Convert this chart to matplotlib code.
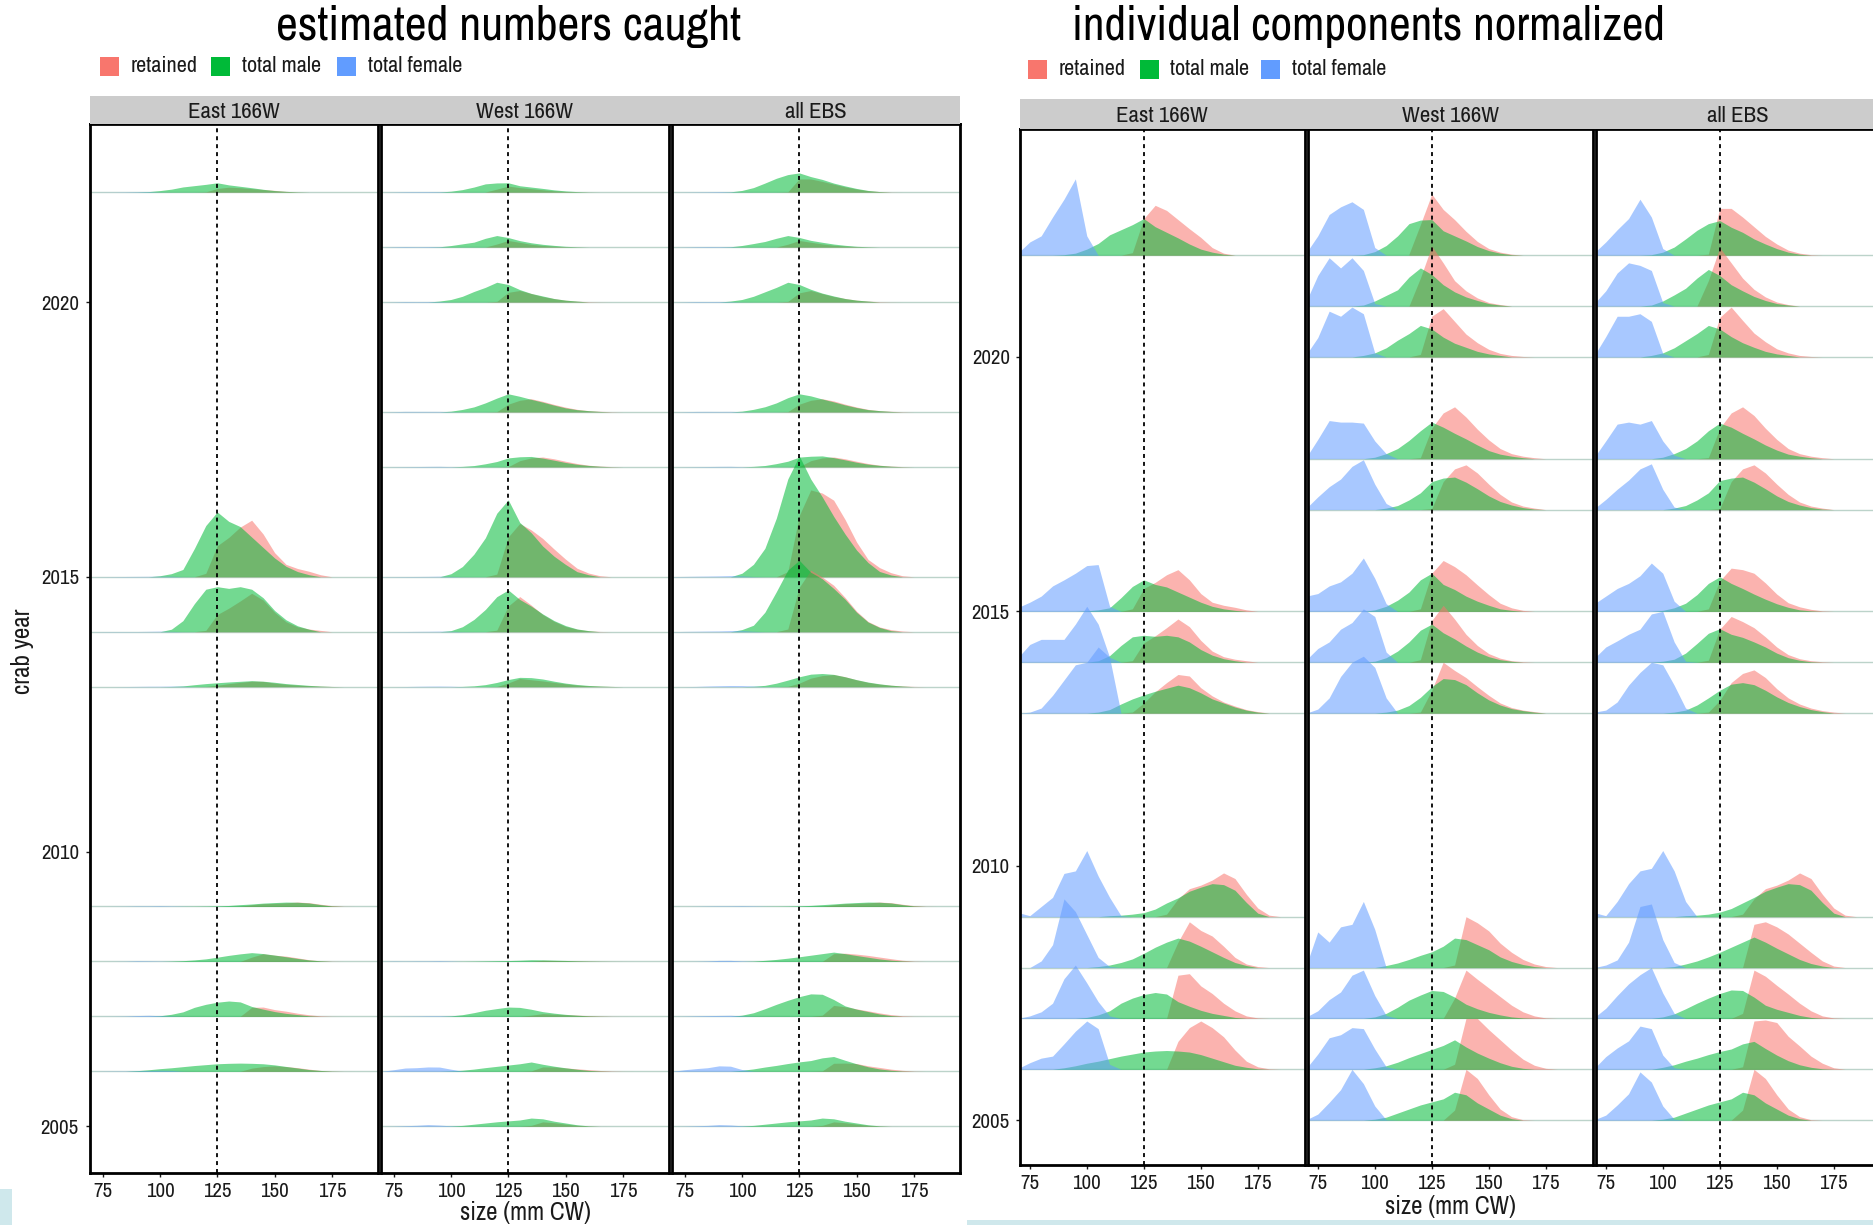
import numpy as np
import matplotlib.pyplot as plt
from matplotlib.patches import Rectangle

W, H = 1873, 1225
plt.rcParams['font.family'] = ['Archivo Narrow', 'PT Sans Narrow', 'DejaVu Sans']

# size bins (mm CW) for each component
female_mm = [65, 70, 75, 80, 85, 90, 95, 100, 105, 110, 115, 120]
male_mm = [85, 90, 95, 100, 105, 110, 115, 120, 125, 130, 135, 140, 145, 150,
           155, 160, 165, 170, 175, 180, 185]
ret_mm = [115, 120, 125, 130, 135, 140, 145, 150, 155, 160, 165, 170, 175,
          180, 185, 190]

# ---- East 166W ----
east_years = [2022, 2015, 2014, 2013, 2009, 2008, 2007, 2006]
east_female = [
    [0, 0.05, 0.26, 0.38, 0.75, 1.10, 1.50, 0.38, 0, 0, 0, 0],
    [0, 0.08, 0.18, 0.30, 0.50, 0.62, 0.75, 0.90, 0.92, 0.10, 0, 0],
    [0, 0.10, 0.35, 0.45, 0.45, 0.45, 0.75, 1.10, 0.75, 0.10, 0, 0],
    [0, 0, 0.02, 0.10, 0.35, 0.65, 0.95, 1.00, 1.30, 1.10, 0, 0],
    [0, 0.08, 0.02, 0.20, 0.38, 0.85, 0.90, 1.30, 0.80, 0.38, 0.02, 0],
    [0, 0, 0, 0.13, 0.45, 1.35, 1.10, 0.65, 0.20, 0.02, 0, 0],
    [0, 0, 0.05, 0.13, 0.30, 0.78, 1.05, 0.70, 0.33, 0.05, 0, 0],
    [0, 0.02, 0.13, 0.22, 0.26, 0.50, 0.75, 0.95, 0.80, 0.10, 0, 0],
]
east_male = [
    [0, 0.01, 0.04, 0.12, 0.23, 0.40, 0.50, 0.60, 0.72, 0.56, 0.45, 0.34, 0.22, 0.12, 0.06, 0.02, 0, 0, 0, 0, 0],
    [0, 0, 0, 0.01, 0.03, 0.07, 0.27, 0.49, 0.62, 0.53, 0.48, 0.38, 0.28, 0.18, 0.10, 0.05, 0.02, 0, 0, 0, 0],
    [0, 0, 0, 0, 0.03, 0.13, 0.33, 0.50, 0.53, 0.51, 0.53, 0.50, 0.40, 0.25, 0.14, 0.07, 0.03, 0, 0, 0, 0],
    [0, 0, 0, 0, 0.02, 0.07, 0.18, 0.28, 0.36, 0.43, 0.49, 0.55, 0.50, 0.40, 0.28, 0.20, 0.12, 0.06, 0.02, 0, 0],
    [0, 0, 0, 0, 0, 0.02, 0.03, 0.05, 0.08, 0.15, 0.27, 0.37, 0.50, 0.58, 0.65, 0.63, 0.52, 0.28, 0.07, 0, 0],
    [0, 0, 0, 0, 0.02, 0.05, 0.10, 0.17, 0.28, 0.40, 0.50, 0.58, 0.52, 0.42, 0.31, 0.20, 0.10, 0.04, 0, 0, 0],
    [0, 0, 0, 0.02, 0.07, 0.15, 0.30, 0.40, 0.47, 0.51, 0.48, 0.33, 0.24, 0.16, 0.10, 0.06, 0.02, 0, 0, 0, 0],
    [0, 0.03, 0.07, 0.12, 0.16, 0.21, 0.26, 0.30, 0.34, 0.36, 0.37, 0.36, 0.34, 0.29, 0.22, 0.15, 0.08, 0.04, 0.01, 0, 0],
]
east_retained = [
    [0, 0.05, 0.72, 0.98, 0.88, 0.70, 0.52, 0.35, 0.15, 0.04, 0, 0, 0, 0, 0, 0],
    [0, 0.05, 0.45, 0.57, 0.72, 0.82, 0.62, 0.35, 0.18, 0.12, 0.08, 0.03, 0, 0, 0, 0],
    [0, 0.03, 0.38, 0.52, 0.68, 0.85, 0.70, 0.43, 0.22, 0.11, 0.06, 0.03, 0, 0, 0, 0],
    [0, 0.02, 0.20, 0.42, 0.60, 0.76, 0.73, 0.50, 0.34, 0.22, 0.14, 0.07, 0.03, 0, 0, 0],
    [0, 0, 0, 0, 0.05, 0.35, 0.55, 0.62, 0.72, 0.86, 0.75, 0.44, 0.17, 0.03, 0, 0],
    [0, 0, 0, 0, 0, 0.50, 0.90, 0.73, 0.62, 0.42, 0.20, 0.07, 0.02, 0, 0, 0],
    [0, 0, 0, 0, 0, 0.85, 0.88, 0.64, 0.49, 0.30, 0.15, 0.05, 0.01, 0, 0, 0],
    [0, 0, 0, 0, 0, 0.55, 0.82, 0.95, 0.82, 0.64, 0.38, 0.16, 0.05, 0.01, 0, 0],
]
# peak heights of the absolute catch curves (in year-row units)
east_peak_male = [0.17, 1.18, 0.82, 0.11, 0.08, 0.16, 0.28, 0.15]
east_peak_retained = [0.09, 1.03, 0.70, 0.10, 0.08, 0.14, 0.17, 0.10]
east_peak_female = [0.01, 0.01, 0.01, 0.01, 0.01, 0.01, 0.02, 0.02]

# ---- West 166W ----
west_years = [2022, 2021, 2020, 2018, 2017, 2015, 2014, 2013, 2008, 2007, 2006, 2005]
west_female = [
    [0, 0.05, 0.38, 0.80, 0.95, 1.05, 0.90, 0.15, 0, 0, 0, 0],
    [0, 0.10, 0.60, 0.95, 0.75, 0.95, 0.70, 0.05, 0, 0, 0, 0],
    [0, 0.05, 0.38, 0.90, 0.80, 0.98, 0.85, 0.08, 0, 0, 0, 0],
    [0, 0.03, 0.38, 0.75, 0.72, 0.72, 0.70, 0.35, 0.10, 0, 0, 0],
    [0, 0.03, 0.25, 0.45, 0.60, 0.85, 0.98, 0.50, 0.12, 0, 0, 0],
    [0, 0.30, 0.35, 0.50, 0.58, 0.75, 1.05, 0.65, 0.15, 0, 0, 0],
    [0, 0.05, 0.27, 0.40, 0.65, 0.78, 1.05, 0.90, 0.20, 0, 0, 0],
    [0, 0, 0.08, 0.30, 0.72, 1.00, 1.12, 0.90, 0.30, 0, 0, 0],
    [0, 0.05, 0.70, 0.50, 0.80, 0.85, 1.30, 0.75, 0, 0, 0, 0],
    [0, 0.03, 0.15, 0.37, 0.52, 0.85, 0.95, 0.45, 0.06, 0, 0, 0],
    [0, 0.02, 0.30, 0.62, 0.68, 0.82, 0.80, 0.40, 0.05, 0, 0, 0],
    [0, 0.01, 0.12, 0.35, 0.60, 1.00, 0.72, 0.28, 0.01, 0, 0, 0],
]
west_male = [
    [0, 0, 0.01, 0.07, 0.19, 0.38, 0.62, 0.69, 0.70, 0.48, 0.38, 0.28, 0.17, 0.09, 0.04, 0.01, 0, 0, 0, 0, 0],
    [0, 0, 0.02, 0.10, 0.21, 0.32, 0.57, 0.75, 0.62, 0.42, 0.28, 0.18, 0.11, 0.05, 0.02, 0, 0, 0, 0, 0, 0],
    [0, 0, 0.03, 0.08, 0.18, 0.33, 0.46, 0.62, 0.55, 0.39, 0.27, 0.19, 0.11, 0.06, 0.03, 0, 0, 0, 0, 0, 0],
    [0, 0, 0, 0.03, 0.10, 0.20, 0.36, 0.55, 0.72, 0.62, 0.50, 0.39, 0.27, 0.16, 0.09, 0.05, 0.02, 0, 0, 0, 0],
    [0, 0, 0, 0, 0.03, 0.08, 0.19, 0.33, 0.55, 0.62, 0.64, 0.54, 0.41, 0.27, 0.16, 0.09, 0.04, 0.01, 0, 0, 0],
    [0, 0, 0, 0.03, 0.10, 0.22, 0.38, 0.62, 0.75, 0.53, 0.43, 0.30, 0.20, 0.12, 0.05, 0.02, 0, 0, 0, 0, 0],
    [0, 0, 0, 0.02, 0.09, 0.22, 0.40, 0.63, 0.75, 0.58, 0.46, 0.32, 0.20, 0.11, 0.05, 0.02, 0, 0, 0, 0, 0],
    [0, 0, 0, 0, 0.02, 0.06, 0.15, 0.31, 0.52, 0.68, 0.66, 0.56, 0.40, 0.26, 0.16, 0.09, 0.05, 0.02, 0, 0, 0],
    [0, 0, 0, 0, 0.04, 0.09, 0.16, 0.24, 0.31, 0.42, 0.58, 0.55, 0.45, 0.35, 0.21, 0.12, 0.06, 0.02, 0, 0, 0],
    [0, 0, 0, 0.03, 0.10, 0.22, 0.36, 0.46, 0.55, 0.53, 0.42, 0.28, 0.19, 0.12, 0.07, 0.03, 0.01, 0, 0, 0, 0],
    [0, 0, 0, 0.03, 0.07, 0.14, 0.23, 0.31, 0.39, 0.47, 0.58, 0.44, 0.32, 0.22, 0.13, 0.06, 0.02, 0, 0, 0, 0],
    [0, 0, 0, 0.02, 0.06, 0.14, 0.22, 0.30, 0.36, 0.42, 0.55, 0.50, 0.34, 0.22, 0.10, 0.03, 0, 0, 0, 0, 0],
]
west_retained = [
    [0.02, 0.60, 1.20, 0.90, 0.70, 0.47, 0.27, 0.13, 0.06, 0.02, 0, 0, 0, 0, 0, 0],
    [0, 0.55, 1.18, 0.85, 0.50, 0.30, 0.16, 0.07, 0.03, 0, 0, 0, 0, 0, 0, 0],
    [0, 0.05, 0.80, 0.95, 0.70, 0.45, 0.28, 0.15, 0.07, 0.03, 0.01, 0, 0, 0, 0, 0],
    [0, 0.02, 0.60, 0.90, 1.02, 0.82, 0.58, 0.37, 0.20, 0.10, 0.05, 0.02, 0, 0, 0, 0],
    [0, 0, 0.02, 0.55, 0.80, 0.88, 0.72, 0.50, 0.30, 0.15, 0.07, 0.03, 0, 0, 0, 0],
    [0, 0.05, 0.75, 1.00, 0.88, 0.72, 0.52, 0.33, 0.16, 0.07, 0.02, 0, 0, 0, 0, 0],
    [0, 0.05, 0.82, 1.12, 0.85, 0.55, 0.33, 0.17, 0.08, 0.03, 0.01, 0, 0, 0, 0, 0],
    [0, 0.02, 0.45, 1.00, 0.84, 0.70, 0.52, 0.35, 0.20, 0.11, 0.06, 0.03, 0, 0, 0, 0],
    [0, 0, 0, 0, 0.05, 1.00, 0.88, 0.72, 0.48, 0.30, 0.16, 0.07, 0.02, 0, 0, 0],
    [0, 0, 0, 0, 0.40, 0.95, 0.77, 0.60, 0.43, 0.26, 0.13, 0.05, 0.01, 0, 0, 0],
    [0, 0, 0, 0, 0.10, 1.00, 1.00, 0.78, 0.58, 0.38, 0.20, 0.08, 0.02, 0, 0, 0],
    [0, 0, 0, 0, 0.20, 1.00, 0.82, 0.50, 0.22, 0.07, 0.01, 0, 0, 0, 0, 0],
]
west_peak_male = [0.17, 0.21, 0.36, 0.33, 0.19, 1.40, 0.76, 0.17, 0.03, 0.17, 0.17, 0.15]
west_peak_retained = [0.11, 0.12, 0.21, 0.24, 0.18, 0.97, 0.64, 0.15, 0.02, 0.05, 0.08, 0.08]
west_peak_female = [0.01, 0.01, 0.01, 0.01, 0.01, 0.01, 0.01, 0.01, 0.01, 0.01, 0.08, 0.03]

# ---- all EBS ----
all_years = [2022, 2021, 2020, 2018, 2017, 2015, 2014, 2013, 2009, 2008, 2007, 2006, 2005]
all_female = [
    [0, 0.05, 0.26, 0.50, 0.72, 1.10, 0.75, 0.13, 0, 0, 0, 0],
    [0, 0.05, 0.30, 0.65, 0.85, 0.80, 0.70, 0.07, 0, 0, 0, 0],
    [0, 0.03, 0.40, 0.80, 0.80, 0.85, 0.70, 0.07, 0, 0, 0, 0],
    [0, 0.03, 0.35, 0.68, 0.72, 0.68, 0.75, 0.35, 0.07, 0, 0, 0],
    [0, 0.02, 0.20, 0.40, 0.58, 0.80, 0.90, 0.40, 0.05, 0, 0, 0],
    [0, 0.15, 0.30, 0.45, 0.55, 0.70, 0.95, 0.75, 0.20, 0, 0, 0],
    [0, 0.08, 0.30, 0.42, 0.55, 0.65, 0.95, 1.00, 0.40, 0.02, 0, 0],
    [0, 0.02, 0.06, 0.22, 0.55, 0.80, 1.00, 0.95, 0.55, 0.10, 0, 0],
    [0, 0.08, 0.02, 0.30, 0.65, 0.90, 0.95, 1.30, 0.90, 0.30, 0, 0],
    [0, 0, 0.05, 0.15, 0.50, 1.20, 1.25, 0.55, 0.10, 0, 0, 0],
    [0, 0.02, 0.20, 0.45, 0.68, 0.86, 1.00, 0.50, 0.10, 0, 0, 0],
    [0, 0.02, 0.25, 0.42, 0.56, 0.85, 0.80, 0.28, 0.03, 0, 0, 0],
    [0, 0.01, 0.10, 0.30, 0.52, 0.95, 0.75, 0.28, 0.02, 0, 0, 0],
]
all_male = [
    [0, 0, 0.01, 0.06, 0.16, 0.32, 0.49, 0.62, 0.68, 0.55, 0.45, 0.32, 0.22, 0.13, 0.06, 0.02, 0, 0, 0, 0, 0],
    [0, 0, 0.02, 0.10, 0.22, 0.35, 0.55, 0.72, 0.60, 0.42, 0.30, 0.19, 0.11, 0.05, 0.02, 0, 0, 0, 0, 0, 0],
    [0, 0, 0.03, 0.08, 0.18, 0.32, 0.46, 0.62, 0.55, 0.40, 0.28, 0.19, 0.11, 0.06, 0.03, 0, 0, 0, 0, 0, 0],
    [0, 0, 0, 0.03, 0.10, 0.20, 0.35, 0.55, 0.70, 0.62, 0.50, 0.39, 0.27, 0.17, 0.09, 0.05, 0.02, 0, 0, 0, 0],
    [0, 0, 0, 0, 0.03, 0.08, 0.19, 0.33, 0.57, 0.62, 0.64, 0.54, 0.41, 0.27, 0.16, 0.09, 0.04, 0.01, 0, 0, 0],
    [0, 0, 0, 0.02, 0.07, 0.16, 0.33, 0.55, 0.68, 0.55, 0.45, 0.34, 0.24, 0.15, 0.08, 0.03, 0.01, 0, 0, 0, 0],
    [0, 0, 0, 0.02, 0.06, 0.18, 0.37, 0.57, 0.66, 0.55, 0.49, 0.40, 0.30, 0.18, 0.09, 0.04, 0.01, 0, 0, 0, 0],
    [0, 0, 0, 0, 0.02, 0.06, 0.16, 0.30, 0.45, 0.57, 0.60, 0.56, 0.45, 0.32, 0.21, 0.13, 0.07, 0.03, 0, 0, 0],
    [0, 0, 0, 0, 0, 0.02, 0.03, 0.05, 0.09, 0.16, 0.27, 0.38, 0.50, 0.58, 0.65, 0.63, 0.52, 0.28, 0.07, 0, 0],
    [0, 0, 0, 0, 0.02, 0.07, 0.13, 0.21, 0.30, 0.40, 0.50, 0.60, 0.50, 0.38, 0.27, 0.16, 0.08, 0.03, 0, 0, 0],
    [0, 0, 0, 0.03, 0.09, 0.19, 0.30, 0.40, 0.49, 0.56, 0.55, 0.42, 0.26, 0.18, 0.12, 0.06, 0.02, 0, 0, 0, 0],
    [0, 0, 0, 0.04, 0.09, 0.16, 0.22, 0.29, 0.35, 0.40, 0.50, 0.55, 0.41, 0.28, 0.17, 0.09, 0.04, 0.01, 0, 0, 0],
    [0, 0, 0, 0.02, 0.06, 0.14, 0.22, 0.30, 0.36, 0.42, 0.55, 0.50, 0.34, 0.22, 0.10, 0.03, 0, 0, 0, 0, 0],
]
all_retained = [
    [0, 0.02, 0.92, 0.92, 0.75, 0.56, 0.37, 0.22, 0.10, 0.04, 0.01, 0, 0, 0, 0, 0],
    [0, 0.50, 1.15, 0.85, 0.55, 0.33, 0.18, 0.08, 0.03, 0, 0, 0, 0, 0, 0, 0],
    [0, 0.05, 0.78, 0.98, 0.72, 0.47, 0.30, 0.16, 0.08, 0.03, 0.01, 0, 0, 0, 0, 0],
    [0, 0.02, 0.60, 0.90, 1.02, 0.85, 0.60, 0.38, 0.20, 0.10, 0.05, 0.02, 0, 0, 0, 0],
    [0, 0, 0.02, 0.55, 0.80, 0.88, 0.72, 0.50, 0.30, 0.15, 0.07, 0.03, 0, 0, 0, 0],
    [0, 0.05, 0.60, 0.85, 0.82, 0.75, 0.56, 0.34, 0.17, 0.09, 0.04, 0.01, 0, 0, 0, 0],
    [0, 0.04, 0.65, 0.90, 0.80, 0.68, 0.50, 0.30, 0.15, 0.07, 0.03, 0.01, 0, 0, 0, 0],
    [0, 0.02, 0.25, 0.60, 0.78, 0.85, 0.70, 0.48, 0.30, 0.18, 0.10, 0.05, 0.02, 0, 0, 0],
    [0, 0, 0, 0, 0.05, 0.35, 0.55, 0.62, 0.72, 0.86, 0.75, 0.44, 0.17, 0.03, 0, 0],
    [0, 0, 0, 0, 0, 0.85, 0.90, 0.80, 0.66, 0.48, 0.30, 0.13, 0.03, 0, 0, 0],
    [0, 0, 0, 0, 0.10, 0.95, 0.83, 0.65, 0.48, 0.30, 0.15, 0.05, 0.01, 0, 0, 0],
    [0, 0, 0, 0, 0.05, 0.95, 0.97, 0.92, 0.65, 0.46, 0.26, 0.12, 0.03, 0, 0, 0],
    [0, 0, 0, 0, 0.20, 1.00, 0.82, 0.50, 0.22, 0.07, 0.01, 0, 0, 0, 0, 0],
]
all_peak_male = [0.35, 0.21, 0.36, 0.33, 0.20, 2.20, 1.30, 0.24, 0.08, 0.17, 0.41, 0.27, 0.15]
all_peak_retained = [0.24, 0.12, 0.21, 0.24, 0.18, 1.58, 1.12, 0.22, 0.08, 0.15, 0.20, 0.15, 0.08]
all_peak_female = [0.01, 0.01, 0.01, 0.01, 0.01, 0.02, 0.02, 0.02, 0.01, 0.02, 0.02, 0.10, 0.03]

areas = ['East 166W', 'West 166W', 'all EBS']
area_data = {
    'East 166W': (east_years, east_retained, east_male, east_female,
                  east_peak_retained, east_peak_male, east_peak_female),
    'West 166W': (west_years, west_retained, west_male, west_female,
                  west_peak_retained, west_peak_male, west_peak_female),
    'all EBS': (all_years, all_retained, all_male, all_female,
                all_peak_retained, all_peak_male, all_peak_female),
}

comp_names = ['retained', 'total male', 'total female']
comp_colors = ['#F8766D', '#00BA38', '#619CFF']
comp_grids = [ret_mm, male_mm, female_mm]
ALPHA = 0.55
TXT = '#1a1a1a'

fig = plt.figure(figsize=(W / 100, H / 100), dpi=100)


def px_axes(x0, y0, x1, y1):
    return fig.add_axes([x0 / W, 1 - y1 / H, (x1 - x0) / W, (y1 - y0) / H])


def draw_facet(ax, area, absolute):
    years, ret, male, fem, pk_ret, pk_male, pk_fem = area_data[area]
    rows = [ret, male, fem]
    peaks = [pk_ret, pk_male, pk_fem]
    # upper rows first so lower ridges sit in front
    for i in np.argsort(years)[::-1]:
        yr = years[i]
        ax.axhline(yr, color='#bcd3ca', lw=1.0, zorder=1)
        for c in range(3):
            h = np.array(rows[c][i], dtype=float)
            if absolute:
                h = h / h.max() * peaks[c][i]
            ax.fill_between(comp_grids[c], yr, yr + h, color=comp_colors[c],
                            alpha=ALPHA, lw=0, zorder=2)
    ax.axvline(125, color='black', lw=1.3, ls=(0, (2.2, 2.2)), zorder=5)


def draw_panel(title, title_size, xs, y_top, y_bot, xlim, ylim, strip, legend,
               title_x, xlabel_y, absolute, ytick_pad):
    for k, area in enumerate(areas):
        x0, x1 = xs[k]
        ax = px_axes(x0, y_top, x1, y_bot)
        ax.set_xlim(*xlim)
        ax.set_ylim(*ylim)
        for s in ax.spines.values():
            s.set_linewidth(2.0)
            s.set_color('black')
        ax.set_xticks([75, 100, 125, 150, 175])
        ax.tick_params(axis='x', direction='out', length=3, width=1,
                       labelsize=15, pad=3.5, colors=TXT)
        if k == 0:
            ax.set_yticks([2005, 2010, 2015, 2020])
            ax.tick_params(axis='y', direction='out', length=3, width=1,
                           labelsize=15, pad=ytick_pad, colors=TXT)
        else:
            ax.set_yticks([])
        draw_facet(ax, area, absolute)
        fig.text((x0 + x1) / 2 / W, 1 - ((strip[0] + strip[1]) / 2 + 1.5) / H,
                 area, ha='center', va='center', fontsize=16.5, color=TXT)
    sx0, sx1 = xs[0][0], xs[-1][1]
    fig.patches.append(Rectangle((sx0 / W, 1 - strip[1] / H),
                                 (sx1 - sx0) / W, (strip[1] - strip[0]) / H,
                                 transform=fig.transFigure, facecolor='#cccccc',
                                 edgecolor='none', zorder=0))
    fig.text(title_x / W, 1 - 40 / H, title, ha='center', va='baseline',
             fontsize=title_size, color='black')
    kx, ky, offsets = legend
    for c in range(3):
        fig.patches.append(Rectangle(((kx + offsets[c]) / W, 1 - (ky + 10) / H),
                                     19 / W, 19 / H, transform=fig.transFigure,
                                     facecolor=comp_colors[c], edgecolor='none'))
        fig.text((kx + offsets[c] + 31) / W, 1 - (ky + 0.5) / H, comp_names[c],
                 ha='left', va='center', fontsize=16, color=TXT)
    fig.text((xs[1][0] + xs[1][1]) / 2 / W, 1 - xlabel_y / H,
             'size (mm CW)', ha='center', va='center', fontsize=18, color=TXT)


# left: absolute numbers
draw_panel('estimated numbers caught', 34.5,
           [(90, 378), (381, 669), (672, 960)], 124, 1173,
           (69.5, 195.1), (2004.15, 2023.24), (96, 124),
           (100, 65.5, [0, 111, 237]), 509, 1213, True, 5)
# right: each component normalized
draw_panel('individual components normalized', 34,
           [(1019.5, 1304.5), (1307.5, 1592.5), (1595.5, 1880.5)], 129, 1165,
           (70.5, 195.5), (2004.12, 2024.48), (99, 129),
           (1028, 68.5, [0, 111.5, 233]), 1368, 1206, False, 4)

fig.text(22 / W, 1 - 651 / H, 'crab year', rotation=90, ha='center',
         va='center', fontsize=18, color=TXT)

# light bands from the slide background
fig.patches.append(Rectangle((0, 0), 12 / W, 36 / H, transform=fig.transFigure,
                             facecolor='#cfe8ec', edgecolor='none'))
fig.patches.append(Rectangle((967 / W, 0), (W - 967) / W, 5 / H,
                             transform=fig.transFigure, facecolor='#cfe8ec',
                             edgecolor='none'))

fig.savefig('out.png', dpi=100)
